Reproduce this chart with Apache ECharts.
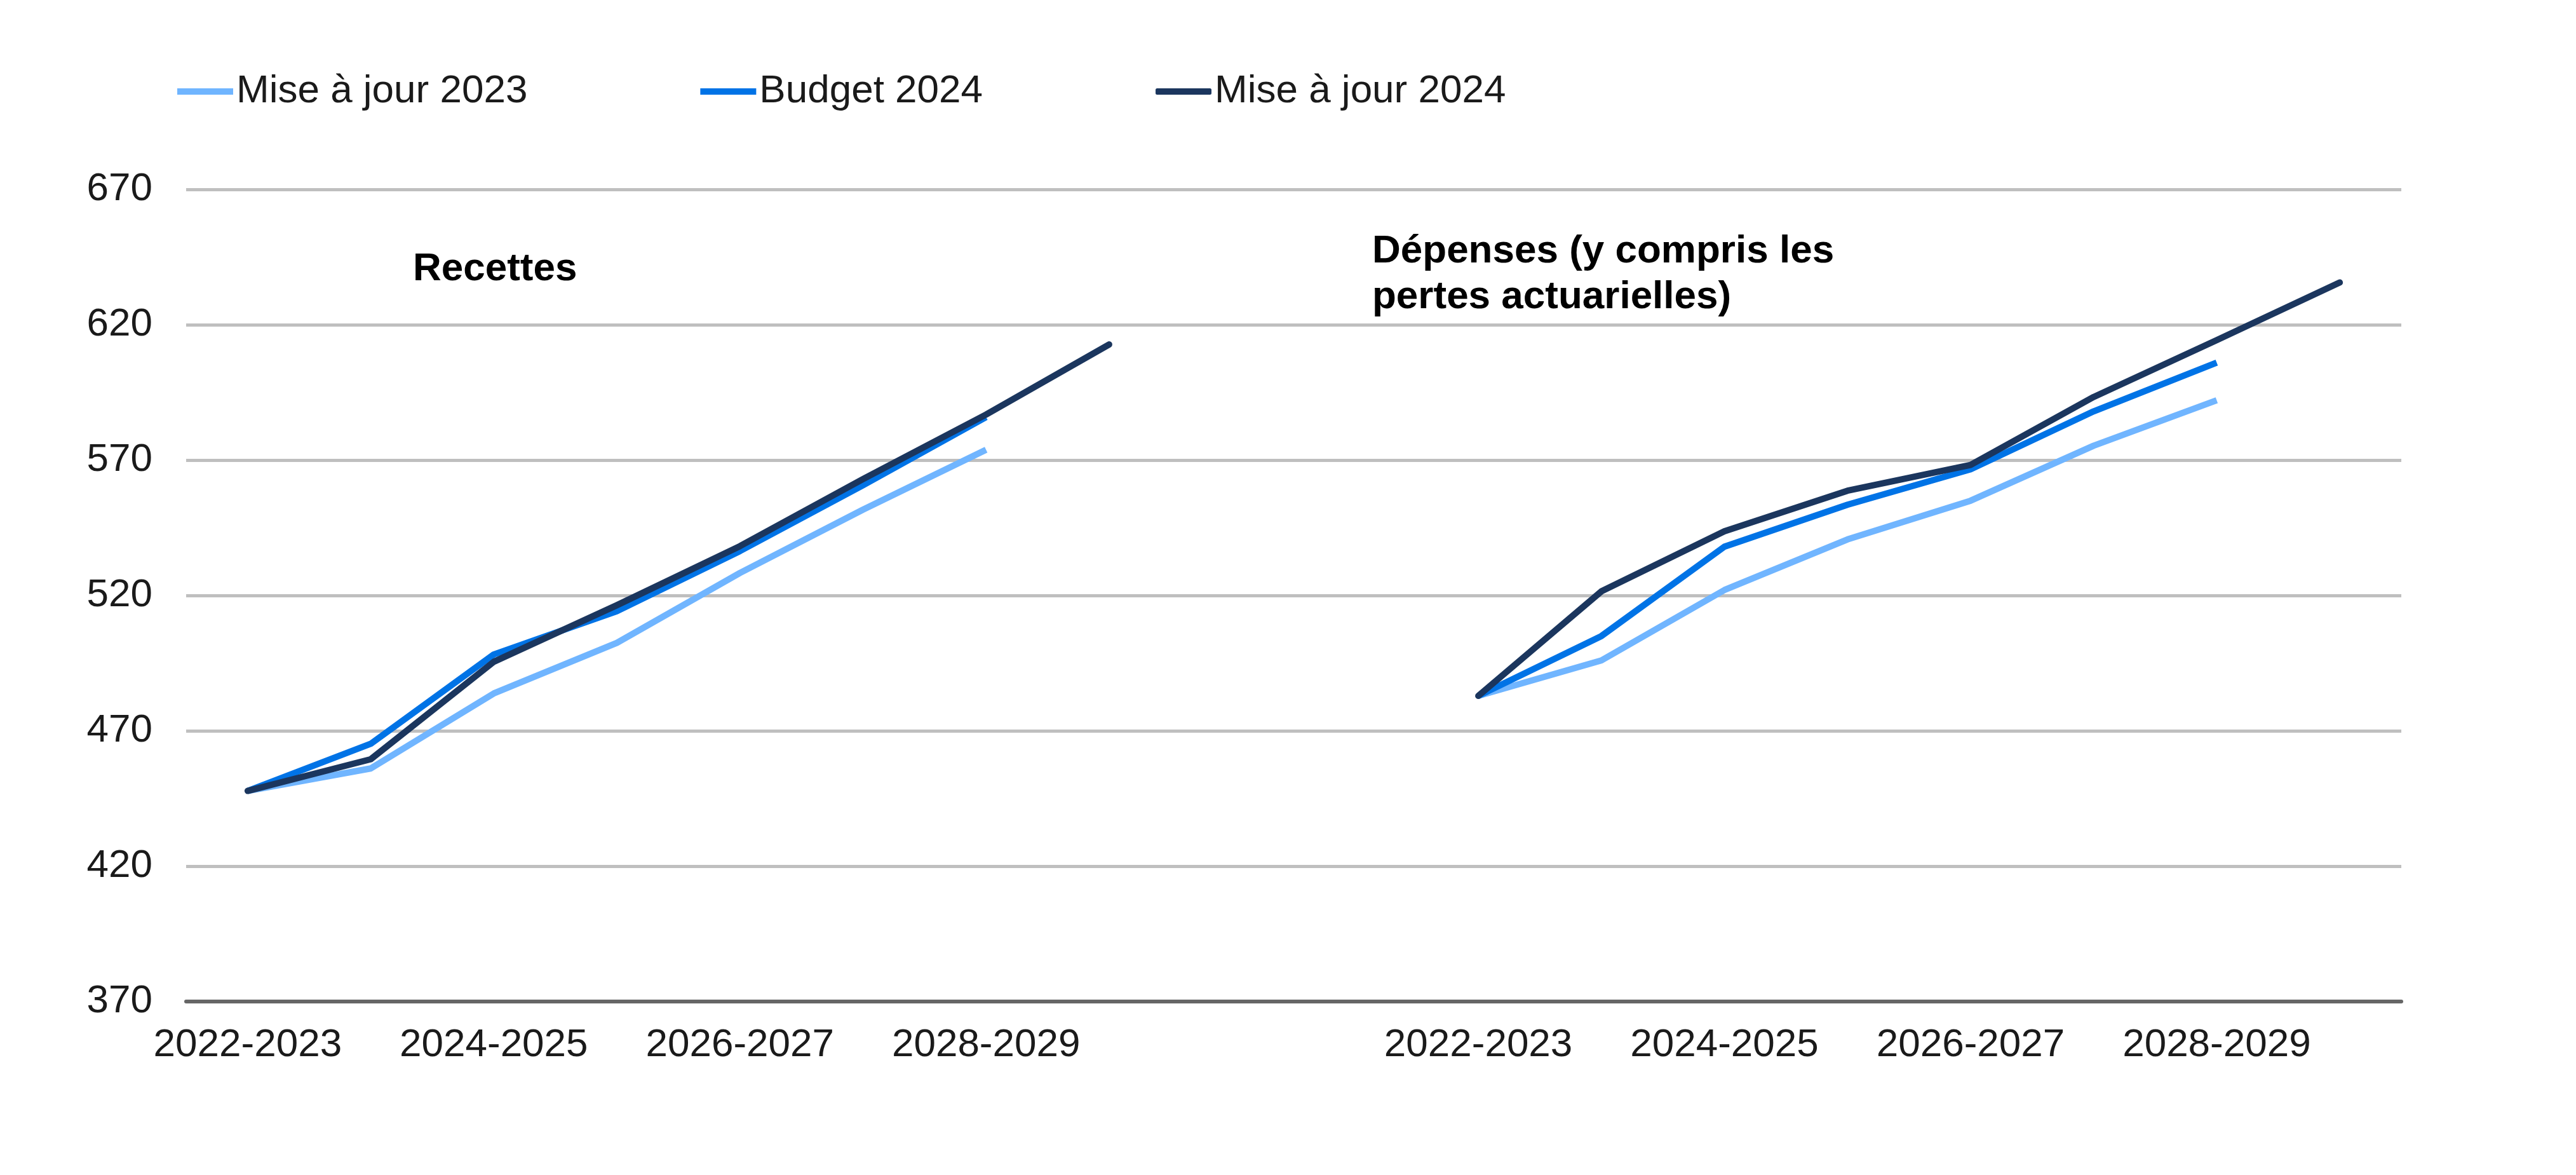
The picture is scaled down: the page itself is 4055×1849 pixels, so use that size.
<!DOCTYPE html>
<html>
<head>
<meta charset="utf-8">
<script src="https://cdn.jsdelivr.net/npm/echarts@6/dist/echarts.min.js"></script>
<style>
    html, body { margin: 0; padding: 0; background: #fff; }
    #chart { width: 4055px; height: 1849px; }
</style>
</head>
<body>
<div id="chart"></div>
<script>
// Exercices (même liste pour les deux panneaux)
let periods = ['2022-2023', '2023-2024', '2024-2025', '2025-2026', '2026-2027', '2027-2028', '2028-2029', '2029-2030']
let gapCategories = ['', '']

let seriesNames = ['Mise à jour 2023', 'Budget 2024', 'Mise à jour 2024']
let seriesColors = ['#70B5FF', '#0073E6', '#1B365E']

// Recettes (milliards $)
let recettesMaj2023 = [447.8, 456.1, 483.8, 502.5, 528.3, 551.7, 573.8]
let recettesBudget2024 = [447.8, 465.2, 498.2, 514.2, 536.4, 560.7, 585.9]
let recettesMaj2024 = [447.8, 459.5, 495.5, 516.4, 538.2, 563.0, 586.8, 612.7]

// Dépenses (y compris les pertes actuarielles)
let depensesMaj2023 = [482.9, 496.0, 522.0, 540.7, 555.0, 575.3, 592.1]
let depensesBudget2024 = [482.9, 505.0, 538.0, 553.5, 566.6, 588.0, 606.0]
let depensesMaj2024 = [482.9, 521.5, 543.7, 558.7, 568.2, 593.3, 614.3, 635.6]

// graduations de l'axe y
let yMin = 370
let yMax = 670
let yStep = 50

let panelTitles = ['Recettes', 'Dépenses (y compris les\npertes actuarielles)']

// remplit un panneau jusqu'à la longueur des exercices
function pad(values) {
    let out = values.slice()
    while (out.length < periods.length) out.push(null)
    return out
}

function joinPanels(left, right) {
    return pad(left).concat(gapCategories.map(() => null), pad(right))
}

let categories = periods.concat(gapCategories, periods)
let seriesData = [
    joinPanels(recettesMaj2023, depensesMaj2023),
    joinPanels(recettesBudget2024, depensesBudget2024),
    joinPanels(recettesMaj2024, depensesMaj2024)
]

let font = '"Liberation Sans", Arial, sans-serif'
let textColor = '#1a1a1a'

let myChart = echarts.init(document.getElementById('chart'), null, {renderer: 'canvas'})
myChart.setOption({
    animation: false,
    backgroundColor: '#ffffff',
    // titres des panneaux
    title: [
        {
            text: panelTitles[0],
            left: 645,
            top: 383,
            textStyle: {fontFamily: font, fontSize: 62, fontWeight: 'bold', color: '#000', lineHeight: 72}
        },
        {
            text: panelTitles[1],
            left: 2155,
            top: 355,
            textStyle: {fontFamily: font, fontSize: 62, fontWeight: 'bold', color: '#000', lineHeight: 72}
        }
    ],
    legend: {
        left: 274,
        top: 108,
        itemWidth: 88,
        itemHeight: 10,
        itemGap: 272,
        data: [
            {name: seriesNames[0], icon: 'rect'},
            {name: seriesNames[1], icon: 'rect'},
            {name: seriesNames[2], icon: 'roundRect'}
        ],
        textStyle: {fontFamily: font, fontSize: 62, color: textColor, padding: [0, 0, 0, 0]}
    },
    grid: {
        left: 293,
        right: 275,
        top: 298,
        bottom: 273
    },
    xAxis: {
        type: 'category',
        data: categories,
        boundaryGap: true,
        axisTick: {show: false},
        axisLine: {lineStyle: {color: '#666666', width: 6}},
        axisLabel: {
            interval: 1,
            margin: 38,
            fontFamily: font,
            fontSize: 62,
            color: textColor
        }
    },
    yAxis: {
        type: 'value',
        min: yMin,
        max: yMax,
        interval: yStep,
        axisLine: {show: false},
        axisTick: {show: false},
        axisLabel: {
            margin: 53,
            fontFamily: font,
            fontSize: 62,
            color: textColor
        },
        splitLine: {lineStyle: {color: '#BFBFBF', width: 5}}
    },
    color: seriesColors,
    series: seriesData.map((data, i) => ({
        name: seriesNames[i],
        type: 'line',
        data: data,
        symbol: 'none',
        connectNulls: false,
        lineStyle: {width: 10, cap: i === 2 ? 'round' : 'butt', join: 'round'},
        z: 2 + i
    }))
})
</script>
</body>
</html>
